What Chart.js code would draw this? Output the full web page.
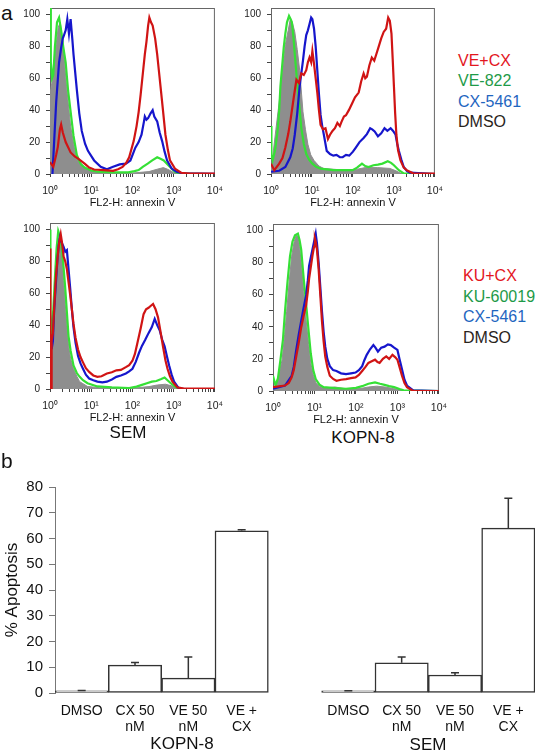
<!DOCTYPE html>
<html>
<head>
<meta charset="utf-8">
<script src="https://cdn.jsdelivr.net/npm/chart.js@4.4.1/dist/chart.umd.min.js"></script>
<style>
body { margin: 0; background: #fff; width: 539px; height: 752px; position: relative; overflow: hidden;
       font-family: 'Liberation Sans', Arial, sans-serif; }
canvas { position: absolute; }
.t { position: absolute; white-space: nowrap; color: #111; }
</style>
</head>
<body>
<canvas id="semVE"></canvas>
<canvas id="kopnVE"></canvas>
<canvas id="semKU"></canvas>
<canvas id="kopnKU"></canvas>
<canvas id="bars"></canvas>

<div class="t" style="left:1px;top:1px;font-size:21px;line-height:24px;">a</div>
<div class="t" style="left:1px;top:449px;font-size:21px;line-height:24px;">b</div>

<div class="t" style="left:458px;top:51px;font-size:16px;line-height:20.3px;">
  <div style="color:#e3161e">VE+CX</div>
  <div style="color:#1e9a48">VE-822</div>
  <div style="color:#1f66bf">CX-5461</div>
  <div style="color:#2a241c">DMSO</div>
</div>
<div class="t" style="left:463px;top:266px;font-size:16px;line-height:20.5px;">
  <div style="color:#e3161e">KU+CX</div>
  <div style="color:#1e9a48">KU-60019</div>
  <div style="color:#1f66bf">CX-5461</div>
  <div style="color:#2a241c">DMSO</div>
</div>

<div class="t" style="left:88px;width:80px;text-align:center;top:422px;font-size:17px;line-height:22px;">SEM</div>
<div class="t" style="left:313px;width:100px;text-align:center;top:427px;font-size:17px;line-height:22px;">KOPN-8</div>
<div class="t" style="left:132px;width:100px;text-align:center;top:733px;font-size:17px;line-height:22px;">KOPN-8</div>
<div class="t" style="left:388px;width:80px;text-align:center;top:734px;font-size:17px;line-height:22px;">SEM</div>

<script>
// Histogram points: [log10 of annexin V intensity, % of max]
// SEM, VE-822 / CX-5461 (top left)
const semVeCx = [[0,7.5],[0.08,4.5],[0.15,12],[0.19,17],[0.24,28],[0.27,31],[0.31,26],[0.38,20],[0.5,13.5],[0.6,11],
  [0.69,9.5],[0.84,6.5],[0.95,4],[1.07,2.8],[1.3,2.4],[1.53,2],[1.65,3],[1.76,4.4],[1.85,7],[1.92,10.5],[2.03,20.6],
  [2.1,30],[2.15,38.8],[2.2,50],[2.26,65],[2.3,75],[2.34,83],[2.38,93],[2.41,98],[2.45,95],[2.49,93],[2.55,85],[2.6,75],
  [2.64,65],[2.68,55],[2.74,40],[2.8,24.6],[2.86,15],[2.91,8.5],[3.03,3.4],[3.18,0.8],[3.4,0.3],[4,0.2]];
const semVe822 = [[0,104],[0.02,70],[0.05,60],[0.08,62],[0.12,80],[0.17,95],[0.22,98],[0.27,90],[0.32,80],[0.38,70],
  [0.44,52],[0.5,39],[0.57,24],[0.65,12],[0.75,6],[0.84,4],[1.0,2.2],[1.15,1.5],[1.5,1],[1.9,1],[2.05,1.8],[2.15,2.5],
  [2.25,4.5],[2.37,6.5],[2.48,8.5],[2.6,10.5],[2.68,9.5],[2.76,8.5],[2.87,5.5],[2.95,3.5],[3.03,1.4],[3.15,0.2],[4,0]];
const semVeCx5461 = [[0.06,0],[0.08,10],[0.15,45],[0.22,70],[0.27,79],[0.31,85],[0.34,87],[0.38,90],[0.42,97],[0.46,88],
  [0.5,97],[0.54,85],[0.57,75],[0.65,53],[0.71,38],[0.77,27],[0.85,19],[0.92,14.5],[1.07,8.5],[1.23,4.5],[1.38,3],
  [1.53,4.5],[1.69,6],[1.84,6.5],[1.95,8.5],[2.07,16.5],[2.15,20],[2.22,24.6],[2.28,33],[2.3,36],[2.34,34],[2.38,35],
  [2.44,38],[2.49,40],[2.53,36],[2.6,33],[2.66,26],[2.72,20.6],[2.78,14],[2.84,8.5],[2.95,3.4],[3.07,1.4],[3.22,0.4],[4,0.1]];
const semVeDmso = [[0,50],[0.05,58],[0.12,75],[0.2,92],[0.25,95],[0.32,80],[0.4,55],[0.5,30],[0.6,15],[0.7,8],[0.85,4],
  [1,2],[1.3,1],[2,0.6],[2.4,1.5],[2.6,3],[2.75,4],[2.85,3],[3,1],[3.1,0],[4,0]];

// KOPN-8, VE-822 / CX-5461 (top right)
const kopnVeCx = [[0,6.5],[0.08,2.4],[0.2,6.5],[0.28,10],[0.35,16.6],[0.42,25],[0.47,32.7],[0.55,47],[0.62,59],[0.68,57],
  [0.74,63],[0.8,62],[0.86,65],[0.9,70],[0.94,73],[0.98,70],[1.01,77],[1.05,69],[1.09,60],[1.13,51],[1.17,40],[1.21,30.7],
  [1.27,28],[1.33,28.7],[1.39,22],[1.44,24.6],[1.5,27],[1.56,28.7],[1.62,32],[1.68,30],[1.72,32.7],[1.78,36],[1.83,36.8],
  [1.9,40],[1.99,44.8],[2.05,48],[2.14,51],[2.2,58],[2.26,63],[2.3,60],[2.34,61],[2.4,68],[2.46,73],[2.52,71],[2.57,75],
  [2.63,80],[2.69,85],[2.75,89],[2.81,91],[2.86,98],[2.9,96],[2.94,88],[2.97,72],[3.0,55],[3.03,38],[3.06,24.6],[3.1,15],
  [3.16,8.5],[3.24,4],[3.31,2.4],[3.47,0.4],[4,0.2]];
const kopnVe822 = [[0,30],[0.01,12],[0.04,8.5],[0.1,15],[0.16,26.6],[0.2,40],[0.23,55],[0.27,67],[0.31,79],[0.35,88],
  [0.39,95],[0.44,99],[0.48,97],[0.51,95],[0.55,85],[0.58,75],[0.62,63],[0.66,51],[0.7,40],[0.74,28.7],[0.8,19],[0.86,12.5],
  [0.93,9],[1.01,6.5],[1.1,4.5],[1.21,3.4],[1.52,2.4],[1.99,2.4],[2.1,4],[2.22,6.5],[2.3,5],[2.38,4.4],[2.5,5.5],[2.61,5.9],
  [2.72,6.5],[2.85,8],[2.93,7],[3.0,5.5],[3.12,2.4],[3.24,0.4],[4,0]];
const kopnVeCx5461 = [[0,1.4],[0.2,2],[0.35,4.4],[0.47,10.5],[0.53,16],[0.58,24.6],[0.64,38],[0.7,55],[0.74,63],[0.78,71],
  [0.82,80],[0.86,87],[0.9,90],[0.94,94],[0.98,98],[1.01,97],[1.05,91],[1.09,80],[1.13,65],[1.17,50],[1.21,37],[1.25,30],
  [1.29,24.6],[1.36,14.5],[1.44,12.5],[1.52,11.5],[1.6,12],[1.68,10.5],[1.75,10.5],[1.83,12],[1.91,11.5],[2.0,14],[2.07,16.6],
  [2.16,20],[2.26,22.6],[2.34,25],[2.42,28.7],[2.47,28],[2.53,26.7],[2.61,23.6],[2.69,25.5],[2.77,28.7],[2.84,27],[2.92,28.7],
  [2.98,27],[3.04,24.6],[3.08,19],[3.12,14.5],[3.18,9],[3.24,4.4],[3.32,1.8],[3.39,0.8],[4,0]];
const kopnVeDmso = [[0,0],[0.04,10.5],[0.12,28],[0.2,45],[0.28,65],[0.35,81],[0.42,90],[0.47,97],[0.52,95],[0.58,89],
  [0.64,78],[0.7,65],[0.74,52],[0.78,39],[0.84,28],[0.9,18.6],[0.97,12],[1.05,8.5],[1.17,5],[1.29,3.4],[1.83,2.4],[2.1,3],
  [2.3,4],[2.6,4],[2.9,3.5],[3.05,2],[3.16,0.5],[3.3,0],[4,0]];

// SEM, KU-60019 / CX-5461 (bottom left)
const semKuCx = [[0,88],[0.01,0],[0.035,0],[0.04,30],[0.07,35],[0.1,50],[0.14,69],[0.2,87],[0.23,93],[0.26,97],[0.29,92],
  [0.33,83],[0.37,80],[0.41,75],[0.45,67],[0.49,59],[0.53,50],[0.57,40.8],[0.62,32],[0.68,24.7],[0.74,20],[0.8,16.7],
  [0.87,13],[0.95,10.7],[1.05,8.5],[1.15,7.6],[1.25,8],[1.38,9.7],[1.5,10.5],[1.61,11.7],[1.72,12],[1.84,13.7],[1.92,15],
  [2.0,17.7],[2.06,22],[2.12,28.8],[2.2,38],[2.27,46.9],[2.33,50],[2.39,50.9],[2.44,52],[2.5,53.3],[2.56,50],[2.62,44.9],
  [2.68,36],[2.74,26.8],[2.8,18],[2.85,12.7],[2.91,8],[2.97,4.6],[3.09,1],[3.25,0.3],[4,0.3]];
const semKu60019 = [[0,100],[0.01,40],[0.04,35],[0.08,50],[0.12,70],[0.16,88],[0.2,99],[0.24,96],[0.29,87],[0.33,76],
  [0.37,63],[0.41,48],[0.45,33],[0.5,24],[0.57,14.7],[0.65,10],[0.72,7.6],[0.8,5.5],[0.91,3.6],[1.15,1.6],[1.5,1],[1.92,0.6],
  [2.1,1.5],[2.23,2.6],[2.35,3.6],[2.47,4.6],[2.58,5],[2.7,6.2],[2.78,7.2],[2.85,5.5],[2.93,3.6],[3.01,2],[3.09,0.6],[3.2,0],[4,0]];
const semKuCx5461 = [[0.04,25],[0.07,30],[0.1,49],[0.14,65],[0.18,81],[0.21,90],[0.24,95],[0.28,92],[0.33,89],[0.37,86],
  [0.41,87],[0.45,75],[0.49,63],[0.53,50],[0.57,38.8],[0.62,29],[0.68,20.7],[0.74,16],[0.8,12.7],[0.87,9],[0.95,6.6],
  [1.05,5.5],[1.15,4.6],[1.27,4.2],[1.38,4.6],[1.5,6],[1.61,7.6],[1.72,8.5],[1.84,9.7],[1.92,11],[2.0,12.7],[2.08,17],
  [2.16,22.7],[2.23,27],[2.31,30.8],[2.39,35],[2.47,38.8],[2.54,43.9],[2.6,40],[2.66,36.8],[2.72,31],[2.78,26.8],[2.84,20],
  [2.89,14.7],[2.95,9],[3.01,4.6],[3.12,0.6],[3.25,0],[4,0]];
const semKuDmso = [[0,25],[0.06,39],[0.1,55],[0.14,69],[0.18,85],[0.22,95],[0.26,90],[0.29,83],[0.33,68],[0.37,53],
  [0.41,40],[0.45,27],[0.5,19],[0.57,12.7],[0.65,8],[0.72,4.6],[0.91,1.6],[1.2,0.8],[2.0,0.5],[2.4,1.5],[2.6,2.5],[2.8,3],
  [2.95,2],[3.1,0.3],[3.2,0],[4,0]];

// KOPN-8, KU-60019 / CX-5461 (bottom right)
const kopnKuCx = [[0,2.4],[0.29,3.4],[0.38,5],[0.45,8.5],[0.5,13],[0.56,21.5],[0.62,30],[0.68,39.6],[0.74,47],[0.8,53.7],
  [0.84,62],[0.87,69.8],[0.91,77],[0.95,84],[0.99,90],[1.01,95],[1.03,93],[1.06,88],[1.1,75.9],[1.14,60],[1.18,43.7],
  [1.22,31],[1.26,21.5],[1.31,15],[1.37,9.5],[1.45,7.5],[1.53,6.4],[1.64,7],[1.76,7.4],[1.88,8],[1.99,8.5],[2.07,10],
  [2.15,12.5],[2.23,15],[2.3,17.5],[2.38,18.5],[2.46,19.5],[2.52,18],[2.57,17.5],[2.65,20],[2.73,21.5],[2.8,20],[2.88,22.5],
  [2.95,21],[3.0,19.5],[3.05,15],[3.11,9.5],[3.17,5],[3.23,2.4],[3.38,0],[4,0]];
const kopnKu60019 = [[0,9.5],[0.06,3.4],[0.12,8],[0.18,19.5],[0.24,32],[0.29,49.7],[0.35,68],[0.41,84],[0.47,93],[0.53,97],
  [0.6,98],[0.64,94],[0.68,88],[0.74,70],[0.8,53.7],[0.86,37],[0.91,23.5],[0.97,13],[1.03,7.4],[1.12,4],[1.22,2.4],[1.5,1.8],
  [1.76,1.4],[2.0,2],[2.15,3],[2.3,4.5],[2.46,5.4],[2.58,4.5],[2.69,3.8],[2.8,3],[2.92,2.4],[3.05,1.2],[3.15,0.4],[4,0]];
const kopnKuCx5461 = [[0,1.4],[0.29,3.4],[0.45,9.5],[0.5,15],[0.56,25.6],[0.62,35],[0.68,43.7],[0.74,52],[0.8,59.8],
  [0.84,69],[0.87,77.9],[0.91,83],[0.95,88],[0.99,93],[1.03,98],[1.06,92],[1.1,80],[1.14,65],[1.18,49.7],[1.22,37],
  [1.26,27.6],[1.31,20],[1.37,15.5],[1.45,13],[1.53,12.5],[1.64,11],[1.76,10.5],[1.88,11],[1.99,11.5],[2.07,13],[2.15,15.5],
  [2.2,19],[2.26,22.5],[2.34,26],[2.42,28.6],[2.47,27],[2.53,24.5],[2.61,27],[2.69,27.6],[2.77,29],[2.84,28.6],[2.92,27],
  [3.0,25.6],[3.05,20],[3.11,13.5],[3.17,7],[3.23,3.4],[3.38,0.4],[4,0]];
const kopnKuDmso = [[0,0],[0.06,3.4],[0.14,10],[0.22,19.5],[0.28,35],[0.33,49.7],[0.39,68],[0.45,84],[0.51,93],[0.56,97],
  [0.6,96],[0.64,90],[0.68,80],[0.74,62],[0.8,43.7],[0.86,29],[0.91,17.5],[0.97,10],[1.03,5.4],[1.12,3],[1.22,1.8],[1.5,2.5],
  [1.6,2],[1.8,1.2],[2.1,1.5],[2.3,2.5],[2.5,3],[2.7,2.5],[2.9,1.5],[3.05,0.8],[3.15,0],[4,0]];

// Bar chart (b)
const barLabels = [['DMSO'], ['CX 50', 'nM'], ['VE 50', 'nM'], ['VE +', 'CX'], '',
                   ['DMSO'], ['CX 50', 'nM'], ['VE 50', 'nM'], ['VE +', 'CX']];
const kopnApoptosis = [0.8, 10.8, 5.8, 63.0];
const kopnError = [0.2, 1.0, 8.2, 0.4];
const semApoptosis = [0.8, 11.7, 7.0, 64.0];
const semError = [0.1, 2.3, 0.9, 11.6];

const histYTicks = [0, 10, 20, 30, 40, 50, 60, 70, 80, 90, 100];
const SUP = ['\u2070', '\u00b9', '\u00b2', '\u00b3', '\u2074'];

Chart.defaults.font.family = "'Liberation Sans', Arial, sans-serif";

const RED = '#d01414', GREEN = '#35e035', BLUE = '#1616cc', GRAY = '#8e8e8e';

// decade ticks 1..9 x 10^e, labels only on the powers of ten
const decadeTicks = [];
for (let e = 0; e < 4; e++) {
    for (let m = 1; m <= 9; m++) decadeTicks.push(e + Math.log10(m));
}
decadeTicks.push(4);

const framePlugin = {
    id: 'frame',
    beforeDatasetsDraw(chart) {
        const { ctx, chartArea: a } = chart;
        ctx.save();
        ctx.strokeStyle = '#666';
        ctx.lineWidth = 1;
        ctx.strokeRect(a.left + 0.5, a.top + 0.5, a.right - a.left - 1, a.bottom - a.top - 1);
        ctx.restore();
    }
};

function makeHist(id, box, series) {
    const yW = 32, xH = 36, padT = 6, padR = 8;
    const cv = document.getElementById(id);
    cv.width = yW + (box.right - box.left) + padR;
    cv.height = padT + (box.bottom - box.top) + xH;
    cv.style.left = (box.left - yW) + 'px';
    cv.style.top = (box.top - padT) + 'px';

    new Chart(cv, {
        type: 'line',
        data: {
            datasets: series.map(s => ({
                data: s.pts.map(p => ({ x: p[0], y: p[1] })),
                borderColor: s.color,
                backgroundColor: s.fill ? s.color : 'transparent',
                fill: s.fill ? 'origin' : false,
                borderWidth: s.fill ? 1 : 2.2,
                pointRadius: 0,
                tension: 0
            }))
        },
        options: {
            responsive: false,
            animation: false,
            devicePixelRatio: 1,
            layout: { padding: { top: padT, right: padR, left: 0, bottom: 0 } },
            plugins: { legend: { display: false }, tooltip: { enabled: false } },
            scales: {
                x: {
                    type: 'linear', min: 0, max: 4,
                    border: { display: false },
                    grid: { drawOnChartArea: false, tickLength: 3, color: '#444' },
                    afterBuildTicks: sc => { sc.ticks = decadeTicks.map(v => ({ value: v })); },
                    ticks: {
                        autoSkip: false, maxRotation: 0, padding: 8, color: '#222', font: { size: 10.5 },
                        callback: v => Number.isInteger(v) ? '10' + SUP[v] : ''
                    },
                    title: { display: true, text: 'FL2-H: annexin V', color: '#111', font: { size: 11 }, padding: { top: 0, bottom: 0 } },
                    afterFit: sc => { sc.height = xH; }
                },
                y: {
                    min: 0, max: 104,
                    border: { display: false },
                    grid: { drawOnChartArea: false, tickLength: 4, color: '#444' },
                    afterBuildTicks: sc => { sc.ticks = histYTicks.map(v => ({ value: v })); },
                    ticks: {
                        autoSkip: false, padding: 6, color: '#222', font: { size: 10 },
                        callback: v => v % 20 === 0 ? v : ''
                    },
                    afterFit: sc => { sc.width = yW; }
                }
            }
        },
        plugins: [framePlugin]
    });
}

// first dataset is drawn on top
makeHist('semVE', { left: 50, right: 223, top: 2, bottom: 174 }, [
    { pts: semVeCx, color: RED },
    { pts: semVeCx5461, color: BLUE },
    { pts: semVe822, color: GREEN },
    { pts: semVeDmso, color: GRAY, fill: true }
]);
makeHist('kopnVE', { left: 271, right: 443, top: 2, bottom: 174 }, [
    { pts: kopnVeCx, color: RED },
    { pts: kopnVeCx5461, color: BLUE },
    { pts: kopnVe822, color: GREEN },
    { pts: kopnVeDmso, color: GRAY, fill: true }
]);
makeHist('semKU', { left: 50, right: 223, top: 217, bottom: 389 }, [
    { pts: semKuCx, color: RED },
    { pts: semKuCx5461, color: BLUE },
    { pts: semKu60019, color: GREEN },
    { pts: semKuDmso, color: GRAY, fill: true }
]);
makeHist('kopnKU', { left: 273, right: 447, top: 218, bottom: 391 }, [
    { pts: kopnKuCx, color: RED },
    { pts: kopnKuCx5461, color: BLUE },
    { pts: kopnKu60019, color: GREEN },
    { pts: kopnKuDmso, color: GRAY, fill: true }
]);

// ---- bar chart ----
const barValues = [...kopnApoptosis, null, ...semApoptosis];
const barErrors = [...kopnError, null, ...semError];

const errorBars = {
    id: 'errorBars',
    afterDatasetsDraw(chart) {
        const { ctx } = chart;
        const yScale = chart.scales.y;
        const meta = chart.getDatasetMeta(0);
        ctx.save();
        ctx.strokeStyle = '#333';
        ctx.lineWidth = 1.5;
        meta.data.forEach((bar, i) => {
            if (barValues[i] == null) return;
            const y0 = yScale.getPixelForValue(barValues[i]);
            const y1 = yScale.getPixelForValue(barValues[i] + barErrors[i]);
            ctx.beginPath();
            ctx.moveTo(bar.x, y0);
            ctx.lineTo(bar.x, y1);
            ctx.moveTo(bar.x - 4, y1);
            ctx.lineTo(bar.x + 4, y1);
            ctx.stroke();
        });
        ctx.restore();
    }
};

const bc = document.getElementById('bars');
bc.width = 539; bc.height = 282;
bc.style.left = '0px'; bc.style.top = '470px';

new Chart(bc, {
    type: 'bar',
    data: {
        labels: barLabels,
        datasets: [{
            data: barValues,
            backgroundColor: '#fff',
            borderColor: '#333',
            borderWidth: 1.5,
            borderSkipped: false,
            categoryPercentage: 1,
            barPercentage: 1
        }]
    },
    options: {
        responsive: false,
        animation: false,
        devicePixelRatio: 1,
        layout: { padding: { top: 17, right: 4, left: 0, bottom: 0 } },
        plugins: { legend: { display: false }, tooltip: { enabled: false } },
        scales: {
            x: {
                grid: { display: false, drawTicks: false },
                border: { display: false },
                ticks: { autoSkip: false, maxRotation: 0, padding: 10, color: '#111', font: { size: 14, lineHeight: 1.15 } },
                afterFit: sc => { sc.height = 59; }
            },
            y: {
                min: 0, max: 80,
                border: { display: true, color: '#777', width: 1 },
                grid: { drawOnChartArea: false, tickLength: 6, color: '#777' },
                ticks: { stepSize: 10, padding: 6, color: '#111', font: { size: 15 } },
                title: { display: true, text: '% Apoptosis', color: '#111', font: { size: 17 }, padding: { top: 2, bottom: 0 } },
                afterFit: sc => { sc.width = 55; }
            }
        }
    },
    plugins: [errorBars]
});
</script>
</body>
</html>
